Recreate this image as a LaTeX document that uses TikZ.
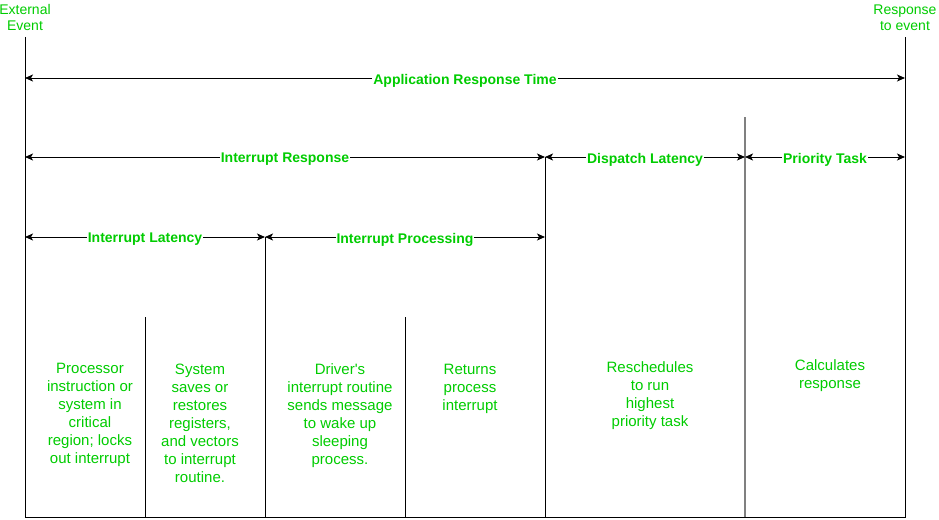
\documentclass[tikz,border=0pt]{standalone}
\usepackage{fontspec}
\setmainfont{Liberation Sans}
\usetikzlibrary{arrows.meta}
\definecolor{textgreen}{RGB}{0,204,0}
\tikzstyle{spanarrow}=[{Stealth[length=8pt,width=7pt,inset=2pt]}-{Stealth[length=8pt,width=7pt,inset=2pt]}, line width=1pt]
\tikzstyle{spanlabel}=[fill=white, inner sep=1pt, yshift=-2.5pt, text=textgreen, font=\fontsize{14}{16}\selectfont\bfseries]
\tikzstyle{endtext}=[align=center, inner sep=0pt, anchor=north, text=textgreen, font=\fontsize{14}{16}\selectfont]
\tikzstyle{bodytext}=[align=center, inner sep=0pt, anchor=north, text=textgreen, font=\fontsize{15}{18}\selectfont]

\begin{document}
\begin{tikzpicture}[x=1pt, y=-1pt]

  \useasboundingbox (0,0) rectangle (939,519);

  % tops and bottoms of the division lines
  \foreach \x/\top/\name in {25/37/ev, 905/37/re, 545/157/dl, 745/117/pt, 265/237/ip, 145/317/ss, 405/317/rp}
    {\coordinate (top-\name) at (\x,\top); \coordinate (bot-\name) at (\x,517);}

  \draw[line width=1pt] (top-ev) -- (bot-ev) -- (bot-re) -- (top-re);
  \foreach \name in {dl, ip, ss, rp}
    \draw[line width=1pt] (top-\name) -- (bot-\name);
  \draw[line width=2pt, gray] (top-pt) -- (bot-pt);

  \foreach \pos/\name in {{(25,78)/a0}, {(905,78)/a1}, {(25,157)/r0}, {(545,157)/r1}, {(745,157)/r2}, {(905,157)/r3}, {(25,237)/l0}, {(265,237)/l1}, {(545,237)/l2}}
    \path \pos coordinate (\name);

  \foreach \source/\dest/\text in {a0/a1/Application Response Time, r0/r1/Interrupt Response, r1/r2/Dispatch Latency, r2/r3/Priority Task, l0/l1/Interrupt Latency, l1/l2/Interrupt Processing}
    \draw[spanarrow] (\source) -- node[spanlabel]{\text} (\dest);

  \node[endtext] (ext) at (25,4.5) {External\\Event};
  \node[endtext] (resp) at (905,4.5) {Response\\to event};

  \node[bodytext] (proc) at (90,363) {Processor\\instruction or\\system in\\critical\\region; locks\\out interrupt};
  \node[bodytext] (save) at (200,364) {System\\saves or\\restores\\registers,\\and vectors\\to interrupt\\routine.};
  \node[bodytext] (drv) at (340,363) {Driver\textquotesingle s\\interrupt routine\\sends message\\to wake up\\sleeping\\process.};
  \node[bodytext] (ret) at (470,364) {Returns\\process\\interrupt};
  \node[bodytext] (resch) at (650,361) {Reschedules\\to run\\highest\\priority task};
  \node[bodytext] (calc) at (830,359) {Calculates\\response};

\end{tikzpicture}
\end{document}
